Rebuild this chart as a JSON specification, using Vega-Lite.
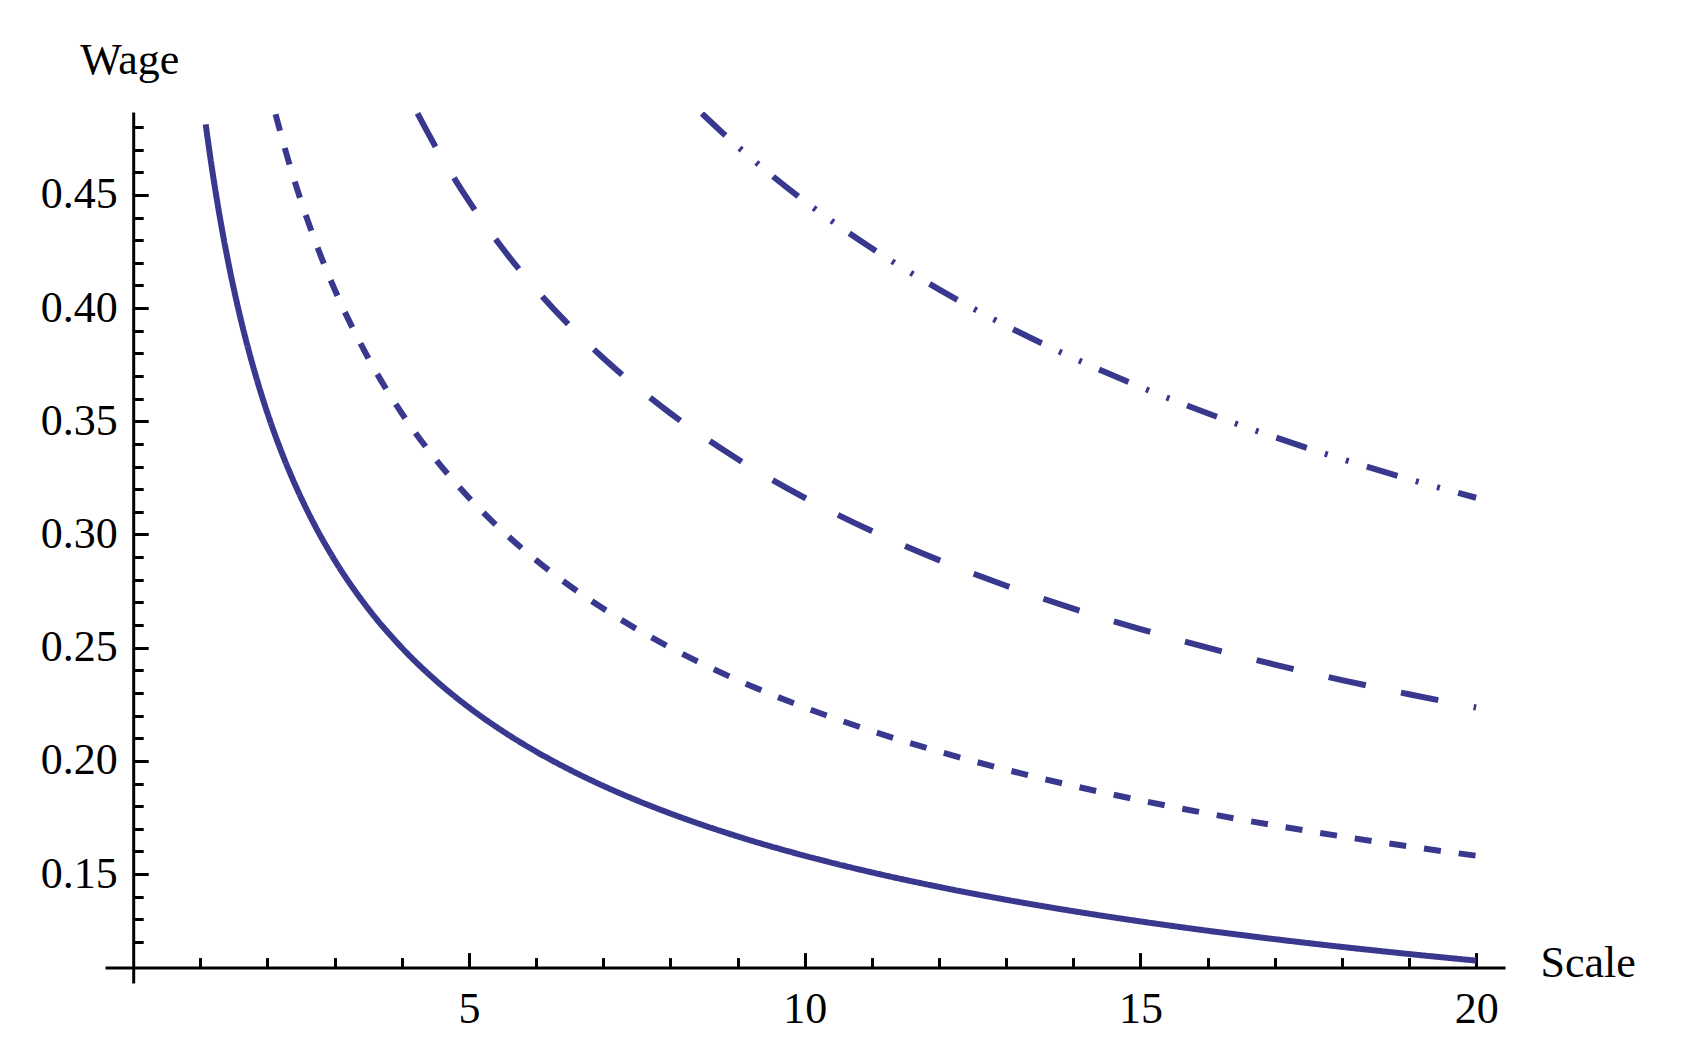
{
  "$schema": "https://vega.github.io/schema/vega-lite/v6.json",
  "width": 1400,
  "height": 871,
  "autosize": "none",
  "padding": {"left": 105, "top": 112, "right": 184, "bottom": 67},
  "background": "white",
  "config": {
    "view": {"stroke": null},
    "axis": {"grid": false, "domainColor": "black", "tickColor": "black", "labelColor": "black", "titleColor": "black", "labelFont": "Liberation Serif", "titleFont": "Liberation Serif", "labelFontSize": 44, "titleFontSize": 44, "titleFontWeight": "normal", "domainWidth": 3, "tickWidth": 3}
  },
  "data": {"values": [
    {"curve": "a", "scale": 1.08, "wage": 0.48113},
    {"curve": "a", "scale": 1.1, "wage": 0.47673},
    {"curve": "a", "scale": 1.2, "wage": 0.45644},
    {"curve": "a", "scale": 1.3, "wage": 0.43853},
    {"curve": "a", "scale": 1.4, "wage": 0.42258},
    {"curve": "a", "scale": 1.5, "wage": 0.40825},
    {"curve": "a", "scale": 1.6, "wage": 0.39528},
    {"curve": "a", "scale": 1.8, "wage": 0.37268},
    {"curve": "a", "scale": 2, "wage": 0.35355},
    {"curve": "a", "scale": 2.25, "wage": 0.33333},
    {"curve": "a", "scale": 2.5, "wage": 0.31623},
    {"curve": "a", "scale": 2.75, "wage": 0.30151},
    {"curve": "a", "scale": 3, "wage": 0.28868},
    {"curve": "a", "scale": 3.5, "wage": 0.26726},
    {"curve": "a", "scale": 4, "wage": 0.25},
    {"curve": "a", "scale": 4.5, "wage": 0.2357},
    {"curve": "a", "scale": 5, "wage": 0.22361},
    {"curve": "a", "scale": 5.5, "wage": 0.2132},
    {"curve": "a", "scale": 6, "wage": 0.20412},
    {"curve": "a", "scale": 6.5, "wage": 0.19612},
    {"curve": "a", "scale": 7, "wage": 0.18898},
    {"curve": "a", "scale": 7.5, "wage": 0.18257},
    {"curve": "a", "scale": 8, "wage": 0.17678},
    {"curve": "a", "scale": 9, "wage": 0.16667},
    {"curve": "a", "scale": 10, "wage": 0.15811},
    {"curve": "a", "scale": 11, "wage": 0.15076},
    {"curve": "a", "scale": 12, "wage": 0.14434},
    {"curve": "a", "scale": 13, "wage": 0.13868},
    {"curve": "a", "scale": 14, "wage": 0.13363},
    {"curve": "a", "scale": 15, "wage": 0.1291},
    {"curve": "a", "scale": 16, "wage": 0.125},
    {"curve": "a", "scale": 17, "wage": 0.12127},
    {"curve": "a", "scale": 18, "wage": 0.11785},
    {"curve": "a", "scale": 19, "wage": 0.11471},
    {"curve": "a", "scale": 20, "wage": 0.1118},
    {"curve": "b", "scale": 2.12, "wage": 0.48565},
    {"curve": "b", "scale": 2.25, "wage": 0.47141},
    {"curve": "b", "scale": 2.5, "wage": 0.44721},
    {"curve": "b", "scale": 2.75, "wage": 0.4264},
    {"curve": "b", "scale": 3, "wage": 0.40825},
    {"curve": "b", "scale": 3.5, "wage": 0.37796},
    {"curve": "b", "scale": 4, "wage": 0.35355},
    {"curve": "b", "scale": 4.5, "wage": 0.33333},
    {"curve": "b", "scale": 5, "wage": 0.31623},
    {"curve": "b", "scale": 5.5, "wage": 0.30151},
    {"curve": "b", "scale": 6, "wage": 0.28868},
    {"curve": "b", "scale": 6.5, "wage": 0.27735},
    {"curve": "b", "scale": 7, "wage": 0.26726},
    {"curve": "b", "scale": 7.5, "wage": 0.2582},
    {"curve": "b", "scale": 8, "wage": 0.25},
    {"curve": "b", "scale": 9, "wage": 0.2357},
    {"curve": "b", "scale": 10, "wage": 0.22361},
    {"curve": "b", "scale": 11, "wage": 0.2132},
    {"curve": "b", "scale": 12, "wage": 0.20412},
    {"curve": "b", "scale": 13, "wage": 0.19612},
    {"curve": "b", "scale": 14, "wage": 0.18898},
    {"curve": "b", "scale": 15, "wage": 0.18257},
    {"curve": "b", "scale": 16, "wage": 0.17678},
    {"curve": "b", "scale": 17, "wage": 0.1715},
    {"curve": "b", "scale": 18, "wage": 0.16667},
    {"curve": "b", "scale": 19, "wage": 0.16222},
    {"curve": "b", "scale": 20, "wage": 0.15811},
    {"curve": "c", "scale": 4.234, "wage": 0.48599},
    {"curve": "c", "scale": 4.5, "wage": 0.4714},
    {"curve": "c", "scale": 5, "wage": 0.44721},
    {"curve": "c", "scale": 5.5, "wage": 0.4264},
    {"curve": "c", "scale": 6, "wage": 0.40825},
    {"curve": "c", "scale": 6.5, "wage": 0.39223},
    {"curve": "c", "scale": 7, "wage": 0.37796},
    {"curve": "c", "scale": 7.5, "wage": 0.36515},
    {"curve": "c", "scale": 8, "wage": 0.35355},
    {"curve": "c", "scale": 9, "wage": 0.33333},
    {"curve": "c", "scale": 10, "wage": 0.31623},
    {"curve": "c", "scale": 11, "wage": 0.30151},
    {"curve": "c", "scale": 12, "wage": 0.28868},
    {"curve": "c", "scale": 13, "wage": 0.27735},
    {"curve": "c", "scale": 14, "wage": 0.26726},
    {"curve": "c", "scale": 15, "wage": 0.2582},
    {"curve": "c", "scale": 16, "wage": 0.25},
    {"curve": "c", "scale": 17, "wage": 0.24254},
    {"curve": "c", "scale": 18, "wage": 0.2357},
    {"curve": "c", "scale": 19, "wage": 0.22942},
    {"curve": "c", "scale": 20, "wage": 0.22361},
    {"curve": "d", "scale": 8.47, "wage": 0.48593},
    {"curve": "d", "scale": 9, "wage": 0.4714},
    {"curve": "d", "scale": 9.5, "wage": 0.45883},
    {"curve": "d", "scale": 10, "wage": 0.44721},
    {"curve": "d", "scale": 11, "wage": 0.4264},
    {"curve": "d", "scale": 12, "wage": 0.40825},
    {"curve": "d", "scale": 13, "wage": 0.39223},
    {"curve": "d", "scale": 14, "wage": 0.37796},
    {"curve": "d", "scale": 15, "wage": 0.36515},
    {"curve": "d", "scale": 16, "wage": 0.35355},
    {"curve": "d", "scale": 17, "wage": 0.343},
    {"curve": "d", "scale": 18, "wage": 0.33333},
    {"curve": "d", "scale": 19, "wage": 0.32444},
    {"curve": "d", "scale": 20, "wage": 0.31623}
  ]},
  "layer": [
    {
      "mark": {"type": "line", "interpolate": "monotone", "color": "#38388e", "strokeWidth": 6, "clip": true},
      "encoding": {
        "x": {"field": "scale", "type": "quantitative", "scale": {"domain": [-0.42, 20.43], "nice": false, "zero": false},
          "axis": {"orient": "bottom", "values": [5, 10, 15, 20], "offset": -15.4, "tickSize": -15, "labelPadding": 35, "title": "Scale", "titleAngle": 0, "titleX": 1435, "titleY": -4, "titleAlign": "left", "titleBaseline": "middle"}},
        "y": {"field": "wage", "type": "quantitative", "scale": {"domain": [0.1019, 0.4866], "nice": false, "zero": false},
          "axis": {"orient": "left", "values": [0.15, 0.2, 0.25, 0.3, 0.35, 0.4, 0.45], "format": ".2f", "offset": -28.2, "tickSize": -15, "labelPadding": 31, "title": "Wage", "titleAngle": 0, "titleX": -4, "titleY": -39, "titleAlign": "center", "titleBaseline": "alphabetic"}},
        "strokeDash": {"field": "curve", "type": "nominal", "legend": null,
          "scale": {"domain": ["a", "b", "c", "d"], "range": [[1, 0], [17, 18], [38, 36], [32, 19, 3, 19, 3, 19]]}}
      }
    },
    {
      "mark": {"type": "line", "opacity": 0},
      "encoding": {
        "x": {"field": "scale", "type": "quantitative",
          "axis": {"orient": "bottom", "values": [1, 2, 3, 4, 6, 7, 8, 9, 11, 12, 13, 14, 16, 17, 18, 19], "offset": -15.4, "tickSize": -10, "labels": false, "domain": false, "title": null}},
        "y": {"field": "wage", "type": "quantitative",
          "axis": {"orient": "left", "values": [0.12, 0.13, 0.14, 0.16, 0.17, 0.18, 0.19, 0.21, 0.22, 0.23, 0.24, 0.26, 0.27, 0.28, 0.29, 0.31, 0.32, 0.33, 0.34, 0.36, 0.37, 0.38, 0.39, 0.41, 0.42, 0.43, 0.44, 0.46, 0.47, 0.48], "offset": -28.2, "tickSize": -10, "labels": false, "domain": false, "title": null}},
        "detail": {"field": "curve", "type": "nominal"}
      }
    }
  ],
  "resolve": {"axis": {"x": "independent", "y": "independent"}}
}
